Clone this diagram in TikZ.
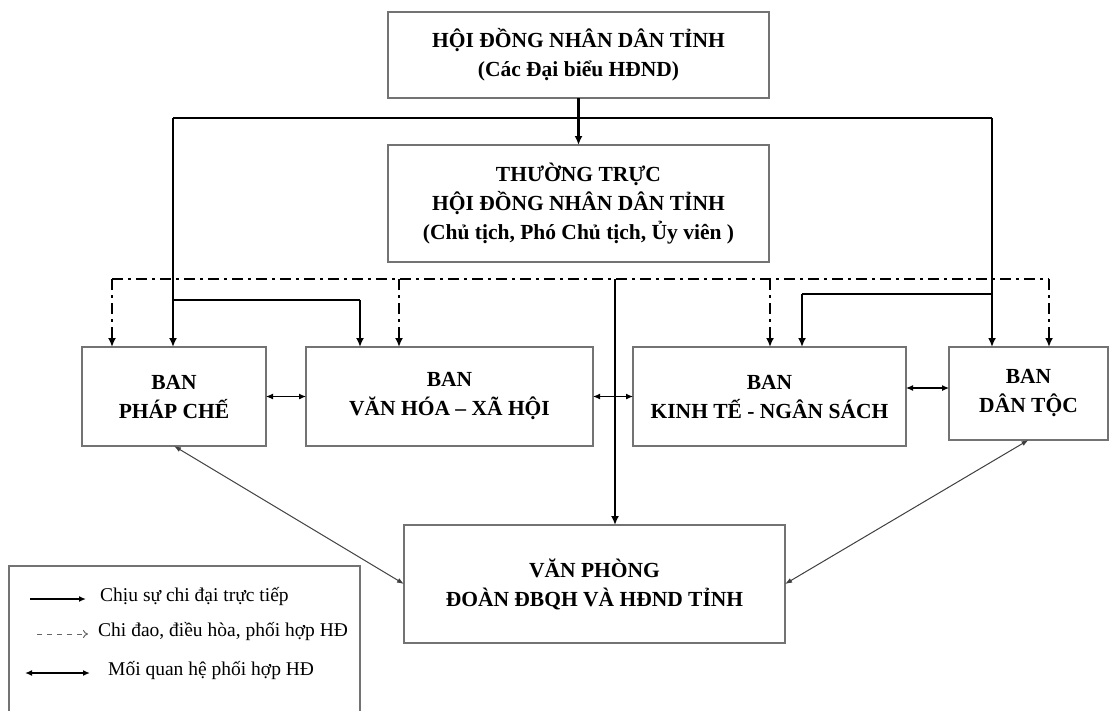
\documentclass[tikz,border=0pt]{standalone}
\usepackage{fontspec}
\setmainfont{Liberation Serif}
\usetikzlibrary{arrows.meta}
\begin{document}
\begin{tikzpicture}[x=1pt,y=-1pt,
  box/.style={draw=black!55, line width=1.3pt, inner sep=0pt, outer sep=0pt, align=center,
    font=\bfseries\fontsize{21.5}{29}\selectfont},
  solidc/.style={line width=2.3pt, black},
  solidarrow/.style={solidc, -{Latex[length=9pt,width=8pt]}},
  dd/.style={line width=2.4pt, dash pattern=on 11pt off 5pt on 3pt off 5pt},
  ddarrow/.style={dd, -{Latex[length=9pt,width=8pt]}},
  twoway/.style={line width=1.1pt, {Latex[length=7pt,width=6pt]}-{Latex[length=7pt,width=6pt]}},
  diag/.style={line width=1pt, black!75, {Latex[length=7pt,width=5pt]}-{Latex[length=7pt,width=5pt]}},
  legtext/.style={anchor=west, inner sep=0pt, font=\fontsize{19.5}{22}\selectfont}
]
\path[use as bounding box, fill=white] (0,0) rectangle (1110,710);

% boxes
\node[box, minimum width=381pt, minimum height=86pt] (top) at (578.5,55)
  {HỘI ĐỒNG NHÂN DÂN TỈNH\\(Các Đại biểu HĐND)};
\node[box, minimum width=381pt, minimum height=117pt] (tt) at (578.5,203.5)
  {THƯỜNG TRỰC\\HỘI ĐỒNG NHÂN DÂN TỈNH\\(Chủ tịch, Phó Chủ tịch, Ủy viên )};
\node[box, minimum width=184pt, minimum height=99pt] (pc) at (174,396.5)
  {BAN\\PHÁP CHẾ};
\node[box, minimum width=287pt, minimum height=99pt] (vh) at (449.5,396.5)
  {BAN\\VĂN HÓA – XÃ HỘI};
\node[box, minimum width=273pt, minimum height=99pt] (kt) at (769.5,396.5)
  {BAN\\KINH TẾ - NGÂN SÁCH};
\node[box, minimum width=159pt, minimum height=93pt] (dt) at (1028.5,393.5)
  {BAN\\DÂN TỘC};
\node[box, minimum width=381pt, minimum height=118pt] (vp) at (594.5,584)
  {VĂN PHÒNG\\ĐOÀN ĐBQH VÀ HĐND TỈNH};

% coordinates
\coordinate (hl) at (173,118);
\coordinate (hr) at (992,118);
\coordinate (bl) at (173,300);
\coordinate (b1) at (360,300);
\coordinate (br) at (992,294);
\coordinate (b2) at (802,294);
\coordinate (dl) at (112,279);
\coordinate (d2) at (399,279);
\coordinate (d3) at (770,279);
\coordinate (dr) at (1049,279);
\coordinate (c) at (615,279);
\coordinate (m3) at (0,388);

% direct subordination (solid)
\draw[solidarrow] (top.south) -- (tt.north);
\draw[solidc] (hl) -- (hr);
\draw[solidarrow] (hl) -- (hl |- pc.north);
\draw[solidarrow] (hr) -- (hr |- dt.north);
\draw[solidc] (bl) -- (b1);
\draw[solidarrow] (b1) -- (b1 |- vh.north);
\draw[solidc] (br) -- (b2);
\draw[solidarrow] (b2) -- (b2 |- kt.north);

% direction (dash-dot)
\draw[dd] (dl) -- (dr);
\draw[ddarrow] (dl) -- (dl |- pc.north);
\draw[ddarrow] (d2) -- (d2 |- vh.north);
\draw[ddarrow] (d3) -- (d3 |- kt.north);
\draw[ddarrow] (dr) -- (dr |- dt.north);

% centre to office
\draw[solidarrow] (c) -- (c |- vp.north);

% coordination
\draw[twoway] (pc.east) -- (vh.west);
\draw[twoway] (vh.east) -- (kt.west);
\draw[twoway] (kt.east |- m3) -- (dt.west |- m3);
\draw[diag] (pc.south) -- (vp.west);
\draw[diag] (dt.south) -- (vp.east);

% legend
\draw[draw=black!55, line width=1.3pt] (9,715) -- (9,566) -- (360,566) -- (360,715);
\coordinate (l1a) at (30,599);  \coordinate (l1b) at (86,599);
\coordinate (l2a) at (37,634);  \coordinate (l2b) at (88,634);
\coordinate (l3a) at (25,673);  \coordinate (l3b) at (90,673);
\draw[line width=2.2pt, -{Latex[length=7pt,width=6pt]}] (l1a) -- (l1b);
\draw[line width=1pt, black!60, dash pattern=on 5pt off 5pt, -{To[length=5pt,width=8pt]}] (l2a) -- (l2b);
\draw[line width=2.2pt, {Latex[length=7pt,width=6pt]}-{Latex[length=7pt,width=6pt]}] (l3a) -- (l3b);
\node[legtext] (t1) at (100,597) {Chịu sự chi đại trực tiếp};
\node[legtext] (t2) at (98,632) {Chi đao, điều hòa, phối hợp HĐ};
\node[legtext] (t3) at (108,671) {Mối quan hệ phối hợp HĐ};
\end{tikzpicture}
\end{document}
